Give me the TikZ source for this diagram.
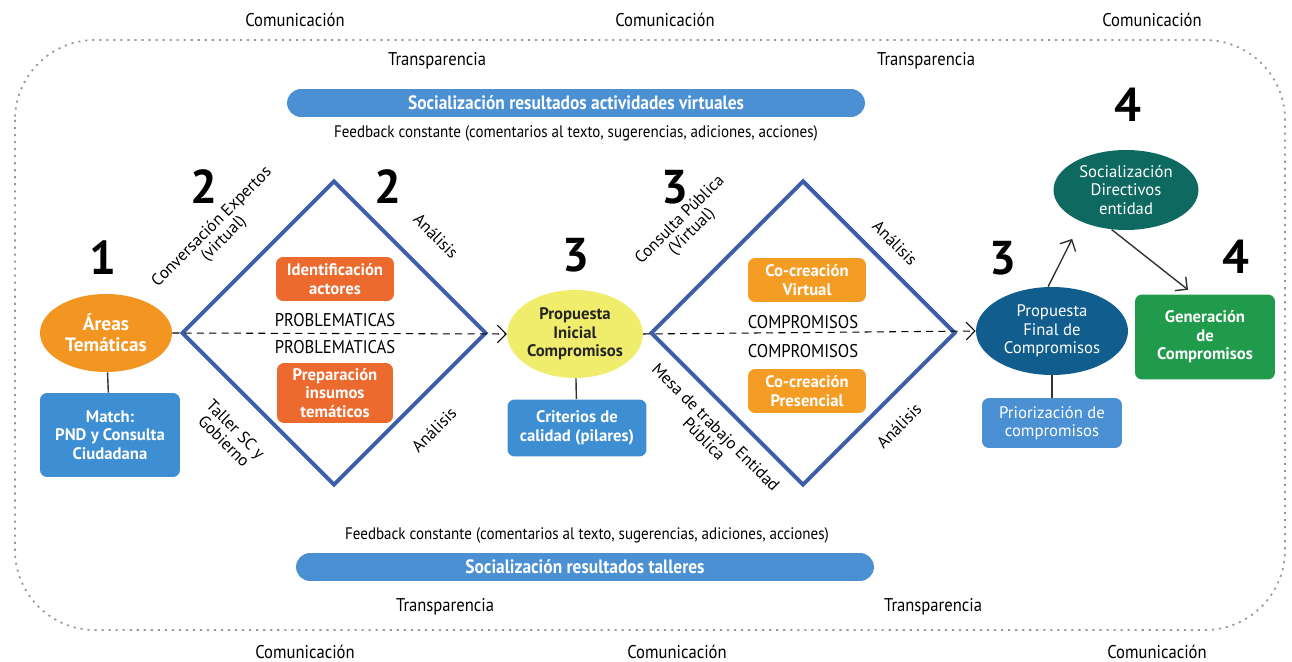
\documentclass[tikz,border=0pt]{standalone}
\usepackage{fontspec}
\setmainfont{PT Sans}
\newfontfamily\narrowfont[FakeStretch=0.9]{PT Sans}
\usepackage{tikz}
\usetikzlibrary{shapes.geometric,arrows.meta}

\definecolor{areaorange}{HTML}{F39521}
\definecolor{redorange}{HTML}{EC6A2D}
\definecolor{coorange}{HTML}{F59C25}
\definecolor{boxblue}{HTML}{3D8ED2}
\definecolor{pillblue}{HTML}{4A90D2}
\definecolor{ovalyellow}{HTML}{F1ED6C}
\definecolor{finalblue}{HTML}{115E8E}
\definecolor{tealgreen}{HTML}{0E6A61}
\definecolor{gengreen}{HTML}{1F9B4B}
\definecolor{rombblue}{HTML}{3C5EAB}

\begin{document}
\begin{tikzpicture}[x=0.02cm, y=-0.02cm,
    every node/.style={inner sep=1pt, align=center},
    plain/.style={font=\narrowfont\fontsize{10.5}{12}\selectfont},
    note/.style={font=\narrowfont\fontsize{9.5}{11}\selectfont},
    side/.style={font=\fontsize{9.5}{9.5}\selectfont},
    num/.style={font=\bfseries\fontsize{27}{28}\selectfont},
    pill/.style={rounded corners=0.28cm, fill=pillblue, text=white,
        font=\narrowfont\bfseries\fontsize{11}{12}\selectfont,
        minimum width=11.56cm, minimum height=0.56cm},
    oval/.style={ellipse, inner sep=0pt, font=\bfseries\fontsize{9.5}{10.5}\selectfont},
    box/.style={rounded corners=4pt, text=white, inner sep=0pt,
        font=\bfseries\fontsize{9.5}{10.5}\selectfont},
    rombo/.style={diamond, draw=rombblue, line width=2.3pt, minimum size=6.1cm, inner sep=0pt},
    flow/.style={dash pattern=on 4pt off 3pt, semithick, -{Straight Barb[length=5pt, width=10pt]}},
    link/.style={thick, black!80},
    tip/.style={link, -{Straight Barb[length=5pt, width=10pt]}}
    ]
    \useasboundingbox (0,0) rectangle (1292,662);

    % Dotted frame
    \draw[gray!80, line width=1pt, dash pattern=on 1.2pt off 2.8pt, rounded corners=1.6cm]
        (15,40) rectangle (1285,630);

    % Comunicacion / Transparencia
    \node[plain] (com1) at (295,20) {Comunicación};
    \node[plain] (com2) at (665,20) {Comunicación};
    \node[plain] (com3) at (1152,20) {Comunicación};
    \node[plain] (com4) at (305,652) {Comunicación};
    \node[plain] (com5) at (677,652) {Comunicación};
    \node[plain] (com6) at (1157,652) {Comunicación};
    \node[plain] (tra1) at (437,61) {Transparencia};
    \node[plain] (tra2) at (926,61) {Transparencia};
    \node[plain] (tra3) at (445,607) {Transparencia};
    \node[plain] (tra4) at (933,607) {Transparencia};

    % Socializacion bars
    \node[pill] (virtual) at (576,103) {Socialización resultados actividades virtuales};
    \node[note] (feed1) at (576,133) {Feedback constante (comentarios al texto, sugerencias, adiciones, acciones)};
    \node[note] (feed2) at (587,535) {Feedback constante (comentarios al texto, sugerencias, adiciones, acciones)};
    \node[pill] (talleres) at (585,567) {Socialización resultados talleres};

    % Diamonds
    \node[rombo] (rombo1) at (334,333) {};
    \node[rombo] (rombo2) at (803,333) {};

    % Step 1
    \node[num] (n1) at (103,258) {1};
    \node[oval, fill=areaorange, text=white, minimum width=2.64cm, minimum height=1.56cm,
        font=\bfseries\fontsize{11}{12}\selectfont]
        (areas) at (106,333) {Áreas\\Temáticas};
    \node[box, fill=boxblue, minimum width=2.8cm, minimum height=1.68cm]
        (match) at (110,435) {Match:\\PND y Consulta\\Ciudadana};

    % Step 2
    \node[num] (n2a) at (204,187) {2};
    \node[num] (n2b) at (388,187) {2};
    \node[box, fill=redorange, minimum width=2.36cm, minimum height=0.88cm]
        (actores) at (335,279) {Identificación\\actores};
    \node[box, fill=redorange, minimum width=2.32cm, minimum height=1.2cm]
        (insumos) at (335,393) {Preparación\\insumos\\temáticos};
    \node[plain] (prob1) at (335,320) {PROBLEMATICAS};
    \node[plain] (prob2) at (335,347) {PROBLEMATICAS};
    \node[side, rotate=45] (expertos) at (218,233) {Conversación Expertos\\(virtual)};
    \node[side, rotate=-45] (taller) at (230,435) {Taller SC y\\Gobierno};
    \node[side, rotate=-45] (anal1) at (436,236) {Análisis};
    \node[side, rotate=45] (anal2) at (434,430) {Análisis};

    % Step 3
    \node[num] (n3a) at (576,255) {3};
    \node[num] (n3b) at (675,187) {3};
    \node[oval, fill=ovalyellow, text=black!85, minimum width=2.6cm, minimum height=1.76cm]
        (inicial) at (575,334) {Propuesta\\Inicial\\Compromisos};
    \node[box, fill=boxblue, minimum width=2.78cm, minimum height=1.14cm]
        (criterios) at (577,428) {Criterios de\\calidad (pilares)};
    \node[box, fill=coorange, minimum width=2.36cm, minimum height=0.88cm]
        (covirtual) at (807,280) {Co-creación\\Virtual};
    \node[box, fill=coorange, minimum width=2.36cm, minimum height=0.88cm]
        (copresencial) at (807,391) {Co-creación\\Presencial};
    \node[plain] (comp1) at (803,322) {COMPROMISOS};
    \node[plain] (comp2) at (803,351) {COMPROMISOS};
    \node[side, rotate=45] (consulta) at (686,226) {Consulta Pública\\(Virtual)};
    \node[side, rotate=-45] (mesa) at (710,433) {Mesa de trabajo Entidad\\Pública};
    \node[side, rotate=-45] (anal3) at (895,243) {Análisis};
    \node[side, rotate=45] (anal4) at (899,426) {Análisis};
    \node[num] (n3c) at (1003,258) {3};
    \node[oval, fill=finalblue, text=white, minimum width=3.04cm, minimum height=1.76cm,
        font=\fontsize{9.5}{10.5}\selectfont]
        (final) at (1052,331) {Propuesta\\Final de\\Compromisos};
    \node[box, fill=pillblue, minimum width=2.8cm, minimum height=1.0cm,
        font=\fontsize{9.5}{10.5}\selectfont]
        (priorizacion) at (1052,423) {Priorización de\\compromisos};

    % Step 4
    \node[num] (n4a) at (1128,105) {4};
    \node[num] (n4b) at (1236,257) {4};
    \node[oval, fill=tealgreen, text=white, minimum width=2.9cm, minimum height=1.6cm,
        font=\fontsize{9.5}{10.5}\selectfont]
        (directivos) at (1126,190) {Socialización\\Directivos\\entidad};
    \node[box, fill=gengreen, minimum width=2.8cm, minimum height=1.7cm]
        (generacion) at (1205,337) {Generación\\de\\Compromisos};

    % Connectors
    \draw[link] (areas) -- (match);
    \draw[link] (inicial) -- (criterios);
    \draw[link] (final) -- (priorizacion);
    \draw[flow] (areas.east) -- (inicial.west);
    \draw[flow] (inicial.east) -- (final.west);
    \draw[tip, shorten >=11pt] (final.95) -- (directivos.215);
    \draw[tip, shorten >=4pt] (directivos.250) -- (generacion.105);
\end{tikzpicture}
\end{document}
